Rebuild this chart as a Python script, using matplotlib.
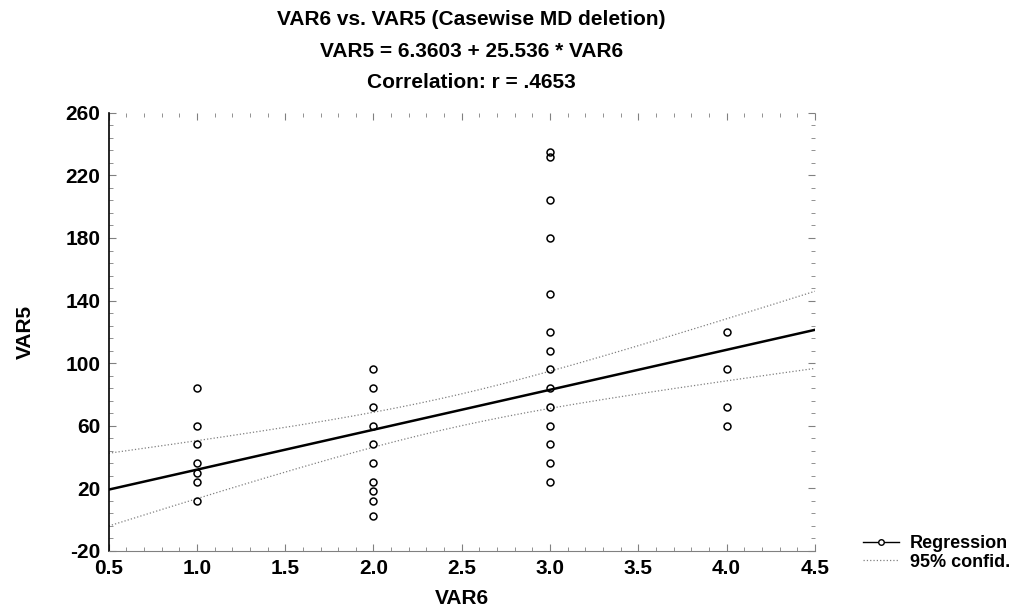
import numpy as np
import matplotlib.pyplot as plt
from matplotlib.lines import Line2D

# dane
var6 = [1]*7 + [2]*10 + [3]*14 + [4]*4
var5 = [84, 60, 48, 36, 30, 24, 12,
        96, 84, 72, 60, 48, 36, 24, 18, 12, 2,
        235, 232, 204, 180, 144, 120, 108, 96, 84, 72, 60, 48, 36, 24,
        120, 96, 72, 60]
intercept = 6.3603
slope = 25.536
band_ts = 60.0
title_lines = ["VAR6 vs. VAR5 (Casewise MD deletion)",
               "VAR5 = 6.3603 + 25.536 * VAR6",
               "Correlation: r = .4653"]
xticks = [0.5, 1.0, 1.5, 2.0, 2.5, 3.0, 3.5, 4.0, 4.5]
yticks = [-20, 20, 60, 100, 140, 180, 220, 260]

plt.rcParams['font.family'] = ['Liberation Sans', 'DejaVu Sans']

x = np.array(var6, dtype=float)
y = np.array(var5, dtype=float)
n = len(x)

# linia regresji i przedzial ufnosci 95%
xs = np.linspace(0.5, 4.5, 200)
ys = intercept + slope * xs
sxx = np.sum((x - x.mean())**2)
hw = band_ts * np.sqrt(1.0/n + (xs - x.mean())**2 / sxx)

fig = plt.figure(figsize=(10.25, 6.10), dpi=100)
ax = fig.add_axes([0.106, 0.097, 0.689, 0.718])

ax.plot(x, y, 'o', ms=5, mfc='none', mec='black', mew=1.1, zorder=3)
ax.plot(xs, ys, 'k-', lw=1.8)
ax.plot(xs, ys + hw, color='gray', ls=':', lw=0.9)
ax.plot(xs, ys - hw, color='gray', ls=':', lw=0.9)

ax.set_xlim(0.5, 4.5)
ax.set_ylim(-20, 260)
ax.set_xticks(xticks)
ax.set_xticklabels([f"{v:.1f}" for v in xticks])
ax.set_yticks(yticks)
ax.set_yticklabels([str(v) for v in yticks])
ax.set_xticks(np.arange(0.5, 4.51, 0.1), minor=True)
ax.set_yticks(np.arange(-20, 261, 8), minor=True)

ax.spines['top'].set_visible(False)
ax.spines['right'].set_visible(False)
ax.spines['left'].set_linewidth(1.2)
ax.spines['bottom'].set_color('gray')
ax.tick_params(which='both', direction='in', top=True, right=True, color='gray')
ax.tick_params(which='major', length=5, labelsize=15, pad=6)
ax.tick_params(which='minor', length=3)
for lab in ax.get_xticklabels() + ax.get_yticklabels():
    lab.set_fontweight('bold')

ax.set_xlabel("VAR6", fontsize=15, fontweight='bold', labelpad=8)
ax.set_ylabel("VAR5", fontsize=15, fontweight='bold', labelpad=22)

for i, t in enumerate(title_lines):
    fig.text(0.46, 0.968 - i*0.052, t, ha='center', va='center',
             fontsize=15, fontweight='bold')

handles = [Line2D([], [], color='black', lw=1, marker='o', ms=4, mfc='white'),
           Line2D([], [], color='gray', lw=0.9, ls=':')]
fig.legend(handles, ["Regression", "95% confid."], loc='upper left',
           bbox_to_anchor=(0.835, 0.135), frameon=False,
           prop={'weight': 'bold', 'size': 13}, handlelength=2.0,
           handletextpad=0.6, labelspacing=0.1, borderaxespad=0)

plt.savefig("out.png")
